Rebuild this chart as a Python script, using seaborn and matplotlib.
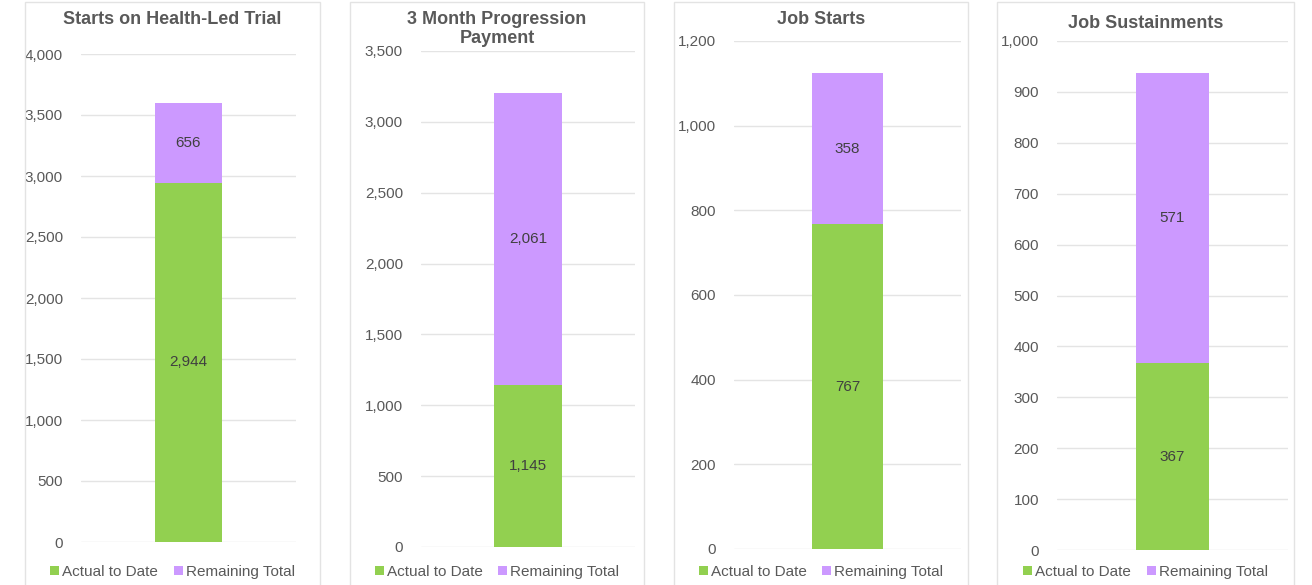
import numpy as np
import pandas as pd
import seaborn as sns
import matplotlib.pyplot as plt
from matplotlib.patches import Patch, Rectangle

# chart data
titles = ["Starts on Health-Led Trial", "3 Month Progression\nPayment",
          "Job Starts", "Job Sustainments"]
actual = [2944, 1145, 767, 367]
remaining = [656, 2061, 358, 571]
y_max = [4000, 3500, 1200, 1000]
y_step = [500, 500, 200, 100]
series = ["Actual to Date", "Remaining Total"]

GREEN = "#92D050"
PURPLE = "#CC99FF"
GREY = "#595959"

sns.set_theme(style="white")
plt.rcParams["font.family"] = ["Liberation Sans", "DejaVu Sans"]

W, H = 1312, 585
fig = plt.figure(figsize=(W / 100, H / 100), dpi=100)

# layout in pixels: panel box, axes box (left, right, top, bottom), title y
panels = [(25, 320), (350, 644), (674, 968), (997, 1294)]
axes_px = [(81, 296, 54, 542), (421, 635, 51, 547),
           (734, 961, 41, 549), (1057, 1288, 41, 550)]
title_y = [19, 29, 19, 23]


def px(x, y):
    return x / W, 1 - y / H


for i in range(4):
    # panel border
    x0, x1 = panels[i]
    fig.patches.append(Rectangle(px(x0, 592), (x1 - x0) / W, 590 / H,
                                 transform=fig.transFigure, fill=False,
                                 edgecolor="#E3E3E3", linewidth=1))

    l, r, t, b = axes_px[i]
    ax = fig.add_axes([l / W, 1 - b / H, (r - l) / W, (b - t) / H])

    df = pd.DataFrame({"measure": ["x"],
                       "total": [actual[i] + remaining[i]],
                       "actual": [actual[i]]})
    # stacked look: total bar in purple, actual drawn over it in green
    sns.barplot(data=df, x="measure", y="total", color=PURPLE,
                width=0.316, saturation=1, linewidth=0, ax=ax, zorder=3)
    sns.barplot(data=df, x="measure", y="actual", color=GREEN,
                width=0.316, saturation=1, linewidth=0, ax=ax, zorder=4)

    ax.text(0, actual[i] / 2, f"{actual[i]:,}", ha="center", va="center",
            fontsize=11, color="#404040", zorder=5)
    ax.text(0, actual[i] + remaining[i] / 2, f"{remaining[i]:,}",
            ha="center", va="center", fontsize=11, color="#404040", zorder=5)

    ax.set_xlim(-0.5, 0.5)
    ax.set_ylim(0, y_max[i])
    ticks = np.arange(0, y_max[i] + 1, y_step[i])
    ax.set_yticks(ticks)
    ax.set_yticklabels([f"{v:,}" for v in ticks])
    ax.set_xticks([])
    ax.set_xlabel("")
    ax.set_ylabel("")
    ax.yaxis.grid(True, color="#E4E4E4", linewidth=1)
    ax.set_axisbelow(True)
    ax.tick_params(axis="y", length=0, pad=13, labelsize=11, labelcolor=GREY)
    sns.despine(ax=ax, left=True, bottom=True)

    cx = (x0 + x1) / 2
    fig.text(*px(cx, title_y[i]), titles[i], ha="center", va="center",
             fontsize=13, fontweight="bold", color=GREY, linespacing=1.1)

    handles = [Patch(facecolor=GREEN, edgecolor="none"),
               Patch(facecolor=PURPLE, edgecolor="none")]
    fig.legend(handles, series, loc="center", bbox_to_anchor=px(cx, 572),
               ncol=2, frameon=False, fontsize=11, handlelength=0.6,
               handleheight=0.6, handletextpad=0.2, columnspacing=1.0,
               labelcolor=GREY, borderpad=0)

fig.savefig("out.png", dpi=100)
